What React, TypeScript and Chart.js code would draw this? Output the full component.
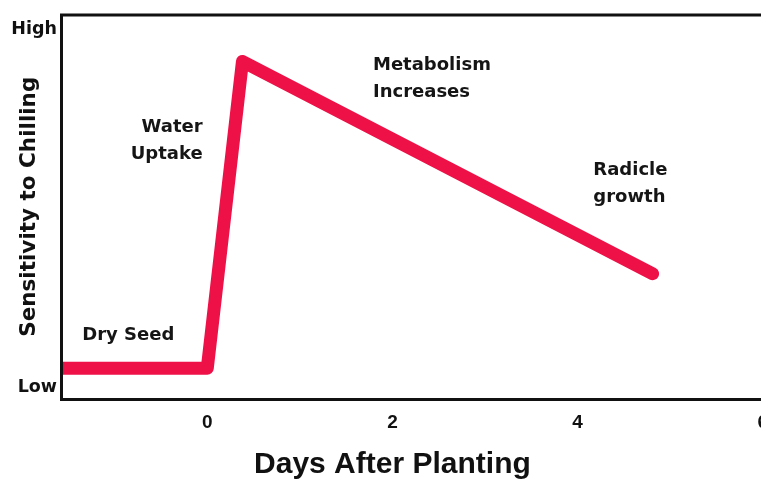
import React, { useEffect, useRef } from 'react';
import { Chart, registerables } from 'chart.js';

Chart.register(...registerables);

// Data (days after planting vs. relative sensitivity, 0 = low, 100 = high)
const dayValues = [-1.58, 0, 0.38, 4.81];
const sensitivity = [8, 8, 87.8, 32.6];

const xTickValues = [0, 2, 4, 6];
const yTickValues = [3, 96];
const yTickLabels = ['Low', 'High'];

const xTitle = 'Days After Planting';
const yTitle = 'Sensitivity to Chilling';

const noteLines = [['Dry Seed'], ['Water', 'Uptake'], ['Metabolism', 'Increases'], ['Radicle', 'growth']];
const noteDay = [-1.35, -0.05, 1.79, 4.17];
const noteLevel = [16.5, 67.1, 83.2, 56.0];
const noteAlign: CanvasTextAlign[] = ['left', 'right', 'left', 'left'];

const LINE_COLOR = '#EE1148';

const framePlugin = {
  id: 'frame',
  afterDatasetsDraw(chart: any) {
    const { ctx, chartArea } = chart;
    ctx.save();
    ctx.strokeStyle = '#111';
    ctx.lineWidth = 3;
    ctx.strokeRect(chartArea.left + 0.5, chartArea.top + 0.5, chartArea.right - chartArea.left, chartArea.bottom - chartArea.top);
    ctx.restore();
  },
};

const notesPlugin = {
  id: 'notes',
  afterDraw(chart: any) {
    const { ctx, scales } = chart;
    ctx.save();
    ctx.fillStyle = '#151515';
    ctx.font = "bold 18px 'DejaVu Sans'";
    ctx.textBaseline = 'middle';
    const lh = 27;
    noteLines.forEach((lines, i) => {
      const x = scales.x.getPixelForValue(noteDay[i]);
      const yc = scales.y.getPixelForValue(noteLevel[i]);
      ctx.textAlign = noteAlign[i];
      const y0 = yc - ((lines.length - 1) * lh) / 2;
      lines.forEach((t, j) => ctx.fillText(t, x, y0 + j * lh));
    });
    // x-axis title, centred under the visible tick span
    const xs = scales.x;
    const cx = (xs.getPixelForValue(xTickValues[0]) + xs.getPixelForValue(xTickValues[2])) / 2;
    ctx.font = "bold 30px 'Liberation Sans'";
    ctx.fillStyle = '#111';
    ctx.textAlign = 'center';
    ctx.fillText(xTitle, cx, xs.bottom - 21);
    ctx.restore();
  },
};

export default function App() {
  const ref = useRef<HTMLCanvasElement | null>(null);

  useEffect(() => {
    if (!ref.current) return;
    const chart = new Chart(ref.current, {
      type: 'line',
      data: {
        datasets: [
          {
            data: dayValues.map((x, i) => ({ x, y: sensitivity[i] })),
            borderColor: LINE_COLOR,
            backgroundColor: LINE_COLOR,
            borderWidth: 13,
            pointRadius: 0,
            tension: 0,
            borderCapStyle: 'round',
            borderJoinStyle: 'round',
            clip: 0,
          } as any,
        ],
      },
      options: {
        responsive: false,
        animation: false,
        plugins: { legend: { display: false }, tooltip: { enabled: false } },
        layout: { padding: { top: 13, right: 28, left: 0, bottom: 0 } },
        scales: {
          x: {
            type: 'linear',
            min: -1.58,
            max: 6.1,
            afterBuildTicks: (s: any) => {
              s.ticks = xTickValues.map((v) => ({ value: v }));
            },
            afterFit: (s: any) => {
              s.height = 87;
            },
            grid: { display: false, drawTicks: false },
            border: { display: false },
            ticks: {
              padding: 12,
              autoSkip: false,
              maxRotation: 0,
              color: '#111',
              font: { family: "'Liberation Sans'", weight: 'bold', size: 19 },
              callback: (v: any) => String(v),
            },
            title: { display: false },
          },
          y: {
            type: 'linear',
            min: 0,
            max: 100,
            afterBuildTicks: (s: any) => {
              s.ticks = yTickValues.map((v) => ({ value: v }));
            },
            afterFit: (s: any) => {
              s.width = 61;
            },
            grid: { display: false, drawTicks: false },
            border: { display: false },
            ticks: {
              padding: 4,
              autoSkip: false,
              color: '#111',
              font: { family: "'DejaVu Sans'", weight: 'bold', size: 17.5 },
              callback: (_v: any, i: number) => yTickLabels[i],
            },
            title: {
              display: true,
              text: yTitle,
              color: '#111',
              font: { family: "'DejaVu Sans'", weight: 'bold', size: 21.5 },
              padding: { top: 17, bottom: 0 },
            },
          },
        },
      } as any,
      plugins: [framePlugin, notesPlugin],
    });
    return () => chart.destroy();
  }, []);

  return (
    <div
      style={{
        position: 'fixed',
        left: 0,
        top: 0,
        width: 761,
        height: 486,
        overflow: 'hidden',
        background: '#fff',
      }}
    >
      <canvas ref={ref} width={800} height={486} style={{ display: 'block' }} />
    </div>
  );
}
